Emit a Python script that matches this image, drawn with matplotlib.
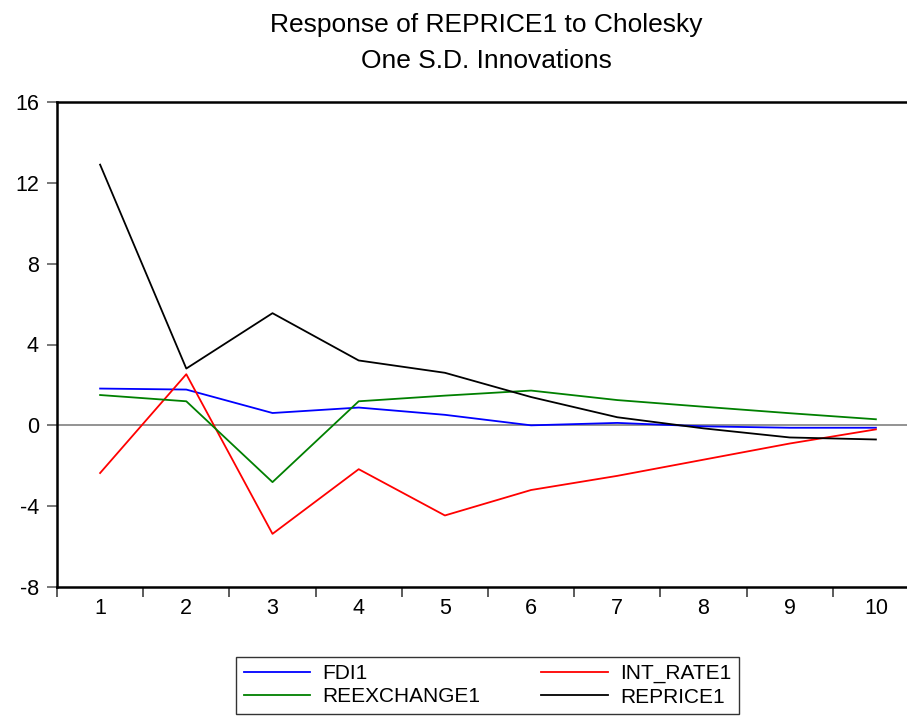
import numpy as np
import matplotlib.pyplot as plt
from matplotlib.ticker import FixedLocator

plt.rcParams['font.family'] = ['Liberation Sans', 'DejaVu Sans']

periods = [1, 2, 3, 4, 5, 6, 7, 8, 9, 10]
fdi1 = [1.82, 1.77, 0.61, 0.88, 0.52, 0.0, 0.12, -0.05, -0.12, -0.12]
int_rate1 = [-2.36, 2.53, -5.37, -2.17, -4.46, -3.2, -2.5, -1.7, -0.9, -0.2]
reexchange1 = [1.5, 1.19, -2.81, 1.19, 1.47, 1.72, 1.25, 0.92, 0.6, 0.3]
reprice1 = [12.9, 2.81, 5.55, 3.21, 2.6, 1.4, 0.4, -0.15, -0.6, -0.7]

W, H = 907, 717
fig = plt.figure(figsize=(W / 100, H / 100), dpi=100)
ax = fig.add_axes([57 / W, 1 - 587 / H, (919 - 57) / W, (587 - 102) / H])

ax.axhline(0, color='#808080', lw=1.2, zorder=1)
l1, = ax.plot(periods, fdi1, color='#0000ff', lw=1.3, label='FDI1')
l2, = ax.plot(periods, int_rate1, color='#ff0000', lw=1.3, label='INT_RATE1')
l3, = ax.plot(periods, reexchange1, color='#008000', lw=1.3, label='REEXCHANGE1')
l4, = ax.plot(periods, reprice1, color='#000000', lw=1.3, label='REPRICE1')

ax.set_xlim(0.5, 10.5)
ax.set_ylim(-8, 16)
ax.set_yticks([-8, -4, 0, 4, 8, 12, 16])
ax.set_yticklabels(['-8', '-4', '0', '4', '8', '12', '16'])
ax.xaxis.set_major_locator(FixedLocator(np.arange(0.5, 10.6, 1)))
ax.xaxis.set_major_formatter(plt.NullFormatter())
ax.xaxis.set_minor_locator(FixedLocator(periods))
ax.set_xticklabels([str(p) for p in periods], minor=True)
ax.tick_params(axis='x', which='major', direction='out', length=7, width=1.2,
               color='#404040')
ax.tick_params(axis='x', which='minor', length=0, pad=8, labelsize=15.5)
ax.tick_params(axis='y', direction='out', length=7, width=1.2, pad=6, labelsize=15.5,
               color='#606060')
for s in ax.spines.values():
    s.set_linewidth(1.8)

# title, two lines
fig.text(0.536, 1 - 32 / H, 'Response of REPRICE1 to Cholesky',
         ha='center', va='baseline', fontsize=19)
fig.text(0.536, 1 - 68 / H, 'One S.D. Innovations',
         ha='center', va='baseline', fontsize=19)

leg = fig.legend(handles=[l1, l3, l2, l4], ncol=2, loc='center',
                 bbox_to_anchor=(0.5375, 0.044), fontsize=15, frameon=True,
                 fancybox=False, edgecolor='black', handlelength=3.2,
                 handletextpad=0.6, columnspacing=2.9, labelspacing=0.2,
                 borderpad=0.35)
leg.get_frame().set_linewidth(1.0)

fig.savefig('out.png', dpi=100)
